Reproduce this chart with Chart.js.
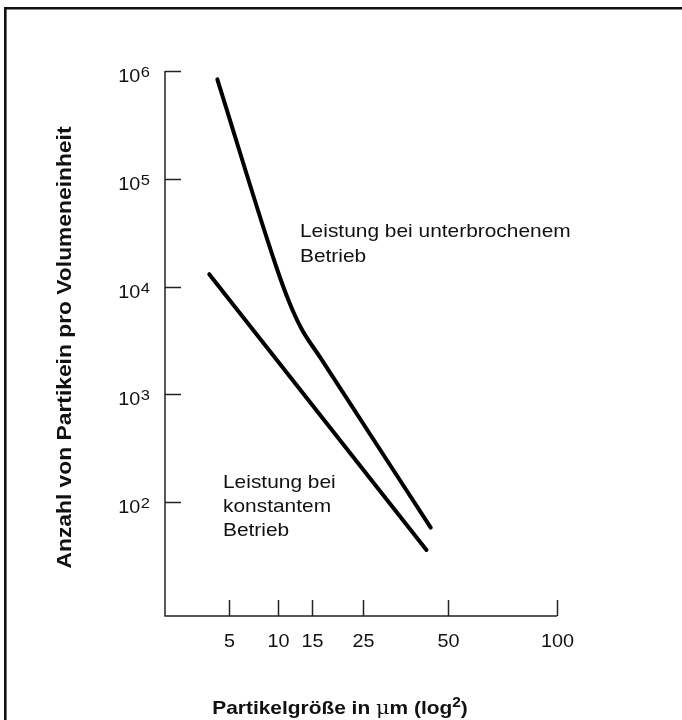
<!DOCTYPE html>
<html>
<head>
<meta charset="utf-8">
<script src="https://cdn.jsdelivr.net/npm/chart.js@4/dist/chart.umd.min.js"></script>
<style>
  html, body { margin: 0; padding: 0; background: #fff; }
  canvas { display: block; }
</style>
</head>
<body>
<canvas id="c" width="682" height="720"></canvas>
<script>
// Particle size (µm) and particle count per unit volume
const intermittentSize  = [4.1, 9.8, 11.5, 13.3, 16.38, 44.0];
const intermittentCount = [837000, 15500, 7300, 4100, 2207, 57.8];
const constantSize  = [3.55, 42.6];
const constantCount = [13000, 35.9];

const sizeTicks  = [5, 10, 15, 25, 50, 100];
const countTicks = [1e2, 1e3, 1e4, 1e5, 1e6];

const intermittentLabel = ['Leistung bei unterbrochenem', 'Betrieb'];
const constantLabel = ['Leistung bei', 'konstantem', 'Betrieb'];
const yTitle = 'Anzahl von Partikein pro Volumeneinheit';

// Compressed size axis: positions follow size^k
const POWER = 0.352;
class PowerScale extends Chart.LinearScale {
  static id = 'power';
  static defaults = Chart.LinearScale.defaults;
  _t(v) { return Math.pow(v, POWER); }
  getPixelForValue(v) {
    const a = this._t(this.min), b = this._t(this.max);
    return this.getPixelForDecimal((this._t(v) - a) / (b - a));
  }
  getValueForPixel(p) {
    const a = this._t(this.min), b = this._t(this.max);
    return Math.pow(a + this.getDecimalForPixel(p) * (b - a), 1 / POWER);
  }
}
Chart.register(PowerScale);

const FONT = '"Liberation Sans", Arial, Helvetica, sans-serif';
const SX = 1.1; // text is set slightly wide

// write text widened horizontally by sx
function wide(ctx, text, x, y, align, sx) {
  ctx.save();
  ctx.translate(x, y);
  ctx.scale(sx, 1);
  ctx.textAlign = align;
  ctx.fillText(text, 0, 0);
  ctx.restore();
}

const axesPlugin = {
  id: 'axesPlugin',
  afterDraw(chart) {
    const ctx = chart.ctx;
    const xs = chart.scales.x, ys = chart.scales.y;
    const { left, top, bottom } = chart.chartArea;
    ctx.save();

    // frame
    ctx.strokeStyle = '#111';
    ctx.lineWidth = 2.6;
    ctx.beginPath();
    ctx.moveTo(5.3, 720);
    ctx.lineTo(5.3, 8.3);
    ctx.lineTo(682, 8.3);
    ctx.stroke();

    // axis lines
    ctx.strokeStyle = '#222';
    ctx.lineWidth = 1.5;
    ctx.beginPath();
    ctx.moveTo(left, ys.getPixelForValue(1e6));
    ctx.lineTo(left, bottom);
    ctx.lineTo(xs.getPixelForValue(100), bottom);
    ctx.stroke();

    // y ticks and labels (10^n)
    ctx.fillStyle = '#111';
    ctx.textBaseline = 'alphabetic';
    countTicks.forEach(v => {
      const y = Math.round(ys.getPixelForValue(v)) + 0.5;
      ctx.beginPath();
      ctx.moveTo(left, y);
      ctx.lineTo(left + 16, y);
      ctx.stroke();
      const exp = String(Math.round(Math.log10(v)));
      ctx.font = '15px ' + FONT;
      const ew = ctx.measureText(exp).width * SX;
      wide(ctx, exp, left - 15, y + 5, 'right', SX);
      ctx.font = '18px ' + FONT;
      wide(ctx, '10', left - 15 - ew - 0.5, y + 10.5, 'right', SX);
    });

    // x ticks and labels
    ctx.font = '18px ' + FONT;
    sizeTicks.forEach(v => {
      const x = Math.round(xs.getPixelForValue(v)) + 0.5;
      ctx.beginPath();
      ctx.moveTo(x, bottom);
      ctx.lineTo(x, bottom - 16);
      ctx.stroke();
      wide(ctx, String(v), x, bottom + 31, 'center', SX);
    });

    // curve annotations
    ctx.font = '19px ' + FONT;
    intermittentLabel.forEach((t, i) => wide(ctx, t, left + 135, top + 166 + i * 25, 'left', SX));
    constantLabel.forEach((t, i) => wide(ctx, t, left + 58, top + 417 + i * 24, 'left', SX));

    // y title
    ctx.save();
    ctx.translate(71, 347.5);
    ctx.rotate(-Math.PI / 2);
    ctx.font = 'bold 19.5px ' + FONT;
    wide(ctx, yTitle, 0, 0, 'center', 1.17);
    ctx.restore();

    // x title with Greek mu and superscript exponent
    const parts = [
      { t: 'Partikelgröße in ', f: 'bold 19px ' + FONT, dy: 0 },
      { t: 'μ', f: '19px "DejaVu Serif", serif', dy: 0 },
      { t: 'm (log', f: 'bold 19px ' + FONT, dy: 0 },
      { t: '2', f: 'bold 14px ' + FONT, dy: -7 },
      { t: ')', f: 'bold 19px ' + FONT, dy: 0 }
    ];
    let total = 0;
    parts.forEach(p => { ctx.font = p.f; p.w = ctx.measureText(p.t).width * SX; total += p.w; });
    let x = 340 - total / 2;
    parts.forEach(p => { ctx.font = p.f; wide(ctx, p.t, x, 714 + p.dy, 'left', SX); x += p.w; });

    ctx.restore();
  }
};

new Chart(document.getElementById('c'), {
  type: 'line',
  data: {
    datasets: [
      {
        data: intermittentSize.map((s, i) => ({ x: s, y: intermittentCount[i] })),
        borderColor: '#000',
        borderWidth: 4,
        borderCapStyle: 'round',
        pointRadius: 0,
        cubicInterpolationMode: 'monotone',
        fill: false
      },
      {
        data: constantSize.map((s, i) => ({ x: s, y: constantCount[i] })),
        borderColor: '#000',
        borderWidth: 4,
        borderCapStyle: 'round',
        pointRadius: 0,
        fill: false
      }
    ]
  },
  options: {
    responsive: false,
    animation: false,
    devicePixelRatio: 1,
    layout: { padding: { left: 165, right: 125, top: 71, bottom: 104 } },
    plugins: { legend: { display: false }, tooltip: { enabled: false } },
    scales: {
      x: { type: 'power', display: false, min: 1.37, max: 100 },
      y: { type: 'logarithmic', display: false, min: 8.75, max: 1e6 }
    }
  },
  plugins: [axesPlugin]
});
</script>
</body>
</html>
